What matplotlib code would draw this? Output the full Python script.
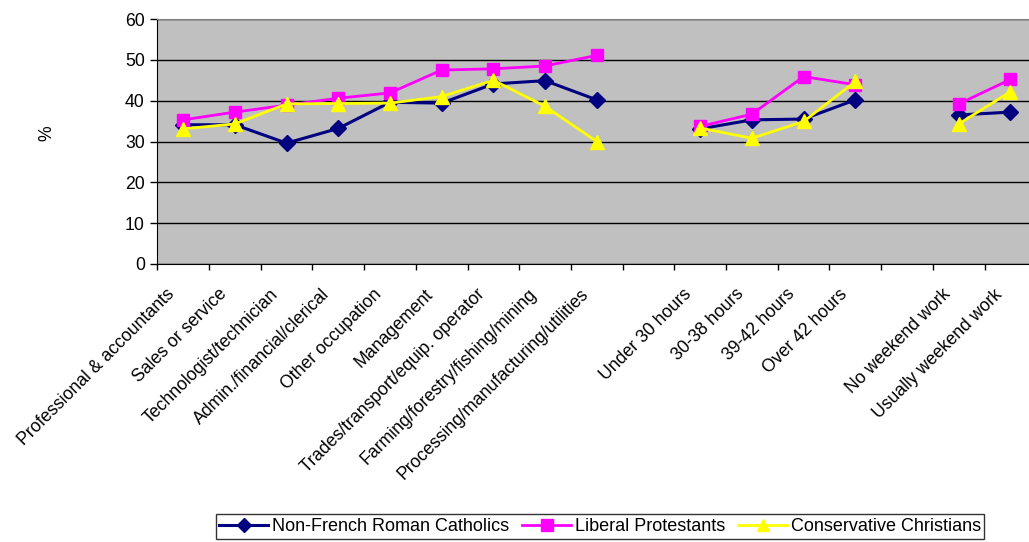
import matplotlib.pyplot as plt
import numpy as np
from matplotlib.transforms import ScaledTranslation

plt.rcParams['font.family'] = ['Liberation Sans', 'DejaVu Sans']

categories = ['Professional & accountants', 'Sales or service', 'Technologist/technician',
              'Admin./financial/clerical', 'Other occupation', 'Management',
              'Trades/transport/equip. operator', 'Farming/forestry/fishing/mining',
              'Processing/manufacturing/utilities', '',
              'Under 30 hours', '30-38 hours', '39-42 hours', 'Over 42 hours', '',
              'No weekend work', 'Usually weekend work']

nan = np.nan
catholics = [34.1, 34.1, 29.6, 33.2, 39.6, 39.4, 44.1, 44.9, 40.2, nan,
             33.1, 35.3, 35.5, 40.2, nan, 36.5, 37.2]
liberals = [35.3, 37.2, 38.9, 40.6, 41.9, 47.5, 47.8, 48.5, 51.1, nan,
            33.7, 36.7, 45.9, 43.9, nan, 39.2, 45.2]
conservatives = [33.1, 34.3, 39.2, 39.3, 39.4, 41.0, 45.0, 38.6, 30.0, nan,
                 33.3, 30.8, 34.9, 44.7, nan, 34.3, 42.2]

series = ['Non-French Roman Catholics', 'Liberal Protestants', 'Conservative Christians']

fig = plt.figure(figsize=(10.29, 5.42), dpi=100)
W, H = 1029, 542
ax = fig.add_axes([157.3 / W, (H - 264) / H, 879 / W, 245 / H])
ax.set_facecolor('#C0C0C0')

x = np.arange(len(categories)) + 0.5
ax.plot(x, catholics, color='#000080', lw=2.2, marker='D', ms=8,
        mec='#000080', mfc='#000080', label=series[0])
ax.plot(x, liberals, color='#FF00FF', lw=2, marker='s', ms=9,
        mec='#FF00FF', mfc='#FF00FF', label=series[1])
ax.plot(x, conservatives, color='#FFFF00', lw=2, marker='^', ms=10,
        mec='#FFFF00', mfc='#FFFF00', label=series[2])

ax.set_xlim(0, len(categories))
ax.set_ylim(0, 60)
ax.set_yticks(range(0, 61, 10))
ax.yaxis.grid(True, color='black', lw=1)
ax.set_axisbelow(True)

# boundary ticks between categories, labels sit on minor ticks at the centres
ax.set_xticks(np.arange(len(categories) + 1))
ax.set_xticklabels([])
ax.set_xticks(x, minor=True)
ax.set_xticklabels(categories, minor=True, rotation=45, ha='right', va='center',
                   rotation_mode='anchor', fontsize=12.7)
ax.tick_params(axis='x', which='major', direction='out', length=4, width=1)
ax.tick_params(axis='x', which='minor', length=0, pad=20)
ax.tick_params(axis='y', direction='out', length=5, width=1, pad=4, labelsize=12.7)

shift = ScaledTranslation(-11 / 100, 0, fig.dpi_scale_trans)
for lab in ax.xaxis.get_minorticklabels():
    lab.set_transform(lab.get_transform() + shift)

for s in ['top', 'right']:
    ax.spines[s].set_color('#808080')
for s in ['left', 'bottom']:
    ax.spines[s].set_color('black')

fig.text(47 / W, 1 - 133 / H, '%', rotation=90, ha='center', va='center', fontsize=12.7)

leg = fig.legend(loc='center', bbox_to_anchor=(600 / W, 1 - 526.5 / H), ncol=3,
                 fontsize=13, frameon=True, fancybox=False, edgecolor='black',
                 handlelength=2.7, columnspacing=0.75, handletextpad=0.2,
                 borderpad=0.2, borderaxespad=0, markerscale=0.9)
leg.get_frame().set_linewidth(1)

fig.savefig('out.png', dpi=100)
